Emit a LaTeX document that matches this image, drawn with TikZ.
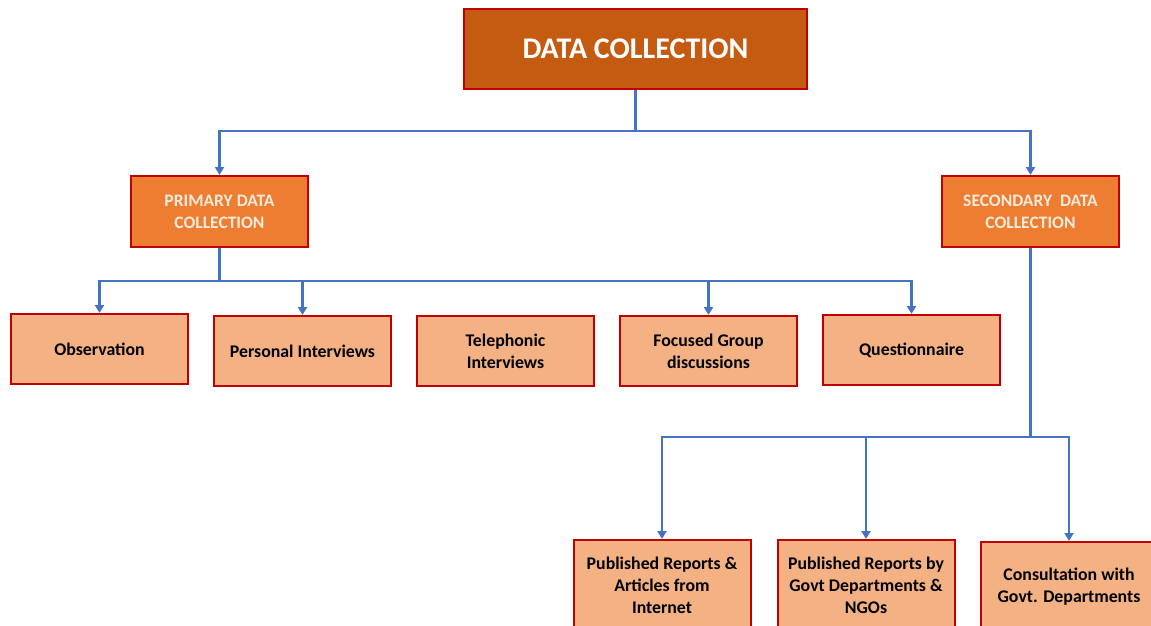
\documentclass[tikz,border=0pt]{standalone}
\usepackage{fontspec}
\setmainfont{Carlito}
\usetikzlibrary{arrows.meta}
\definecolor{rootfill}{HTML}{C55A11}
\definecolor{midfill}{HTML}{ED7D31}
\definecolor{leaffill}{HTML}{F4B183}
\definecolor{boxline}{HTML}{C00000}
\definecolor{linkblue}{HTML}{4472C4}
\definecolor{midtext}{HTML}{FCEBDD}

\begin{document}
\begin{tikzpicture}[x=1pt,y=-1pt,
    box/.style={draw=boxline,line width=2pt,minimum width=177pt,inner sep=0pt,align=center,font=\bfseries},
    rootbox/.style={box,fill=rootfill,minimum width=343pt,minimum height=80pt,text=white,font=\bfseries\fontsize{30}{30}\selectfont},
    midbox/.style={box,fill=midfill,minimum height=71pt,text=midtext,font=\bfseries\fontsize{17.5}{22}\selectfont},
    leafbox/.style={box,fill=leaffill,minimum height=70pt,text=black,font=\bfseries\fontsize{17.8}{22}\selectfont},
    link/.style={draw=linkblue,line width=2.8pt},
    arr/.style={link,-{Triangle[length=8pt,width=9pt]}}]
    \useasboundingbox (0,0) rectangle (1151,626);
    \clip (0,0) rectangle (1151,626);
    % top level
    \node[rootbox] (root) at (635.5,49) {DATA COLLECTION};
    \node[midbox] (prim) at (219.5,211.5) {PRIMARY DATA\\COLLECTION};
    \node[midbox] (sec) at (1030.5,211.5) {SECONDARY\ \ DATA\\COLLECTION};
    % primary methods
    \node[leafbox] (obs) at (99.5,349) {Observation};
    \node[leafbox] (pers) at (302.5,351) {Personal Interviews};
    \node[leafbox] (tele) at (505.5,351) {Telephonic\\Interviews};
    \node[leafbox] (focus) at (708.5,351) {Focused Group\\discussions};
    \node[leafbox] (quest) at (911.5,350) {Questionnaire};
    % secondary sources
    \node[leafbox,minimum height=90pt] (pub1) at (662,585) {Published Reports \&\\Articles from\\Internet};
    \node[leafbox,minimum height=90pt] (pub2) at (866,585) {Published Reports by\\Govt Departments \&\\NGOs};
    \node[leafbox,minimum height=90pt] (cons) at (1069,587) {Consultation with\\Govt. Departments};
    % connectors
    \coordinate (j1) at (635.5,131);
    \coordinate (j2) at (219.5,281);
    \coordinate (j3) at (1030.5,437);
    \draw[link] (root) -- (j1);
    \draw[arr] (j1) -| (prim);
    \draw[arr] (j1) -| (sec);
    \draw[link] (prim) -- (j2);
    \draw[arr] (j2) -| (obs);
    \draw[arr] (j2) -| (pers);
    \draw[arr] (j2) -| (focus);
    \draw[arr] (j2) -| (quest);
    \draw[link] (sec) -- (j3);
    \draw[arr] (j3) -| (pub1);
    \draw[arr] (j3) -| (pub2);
    \draw[arr] (j3) -| (cons);
\end{tikzpicture}
\end{document}
